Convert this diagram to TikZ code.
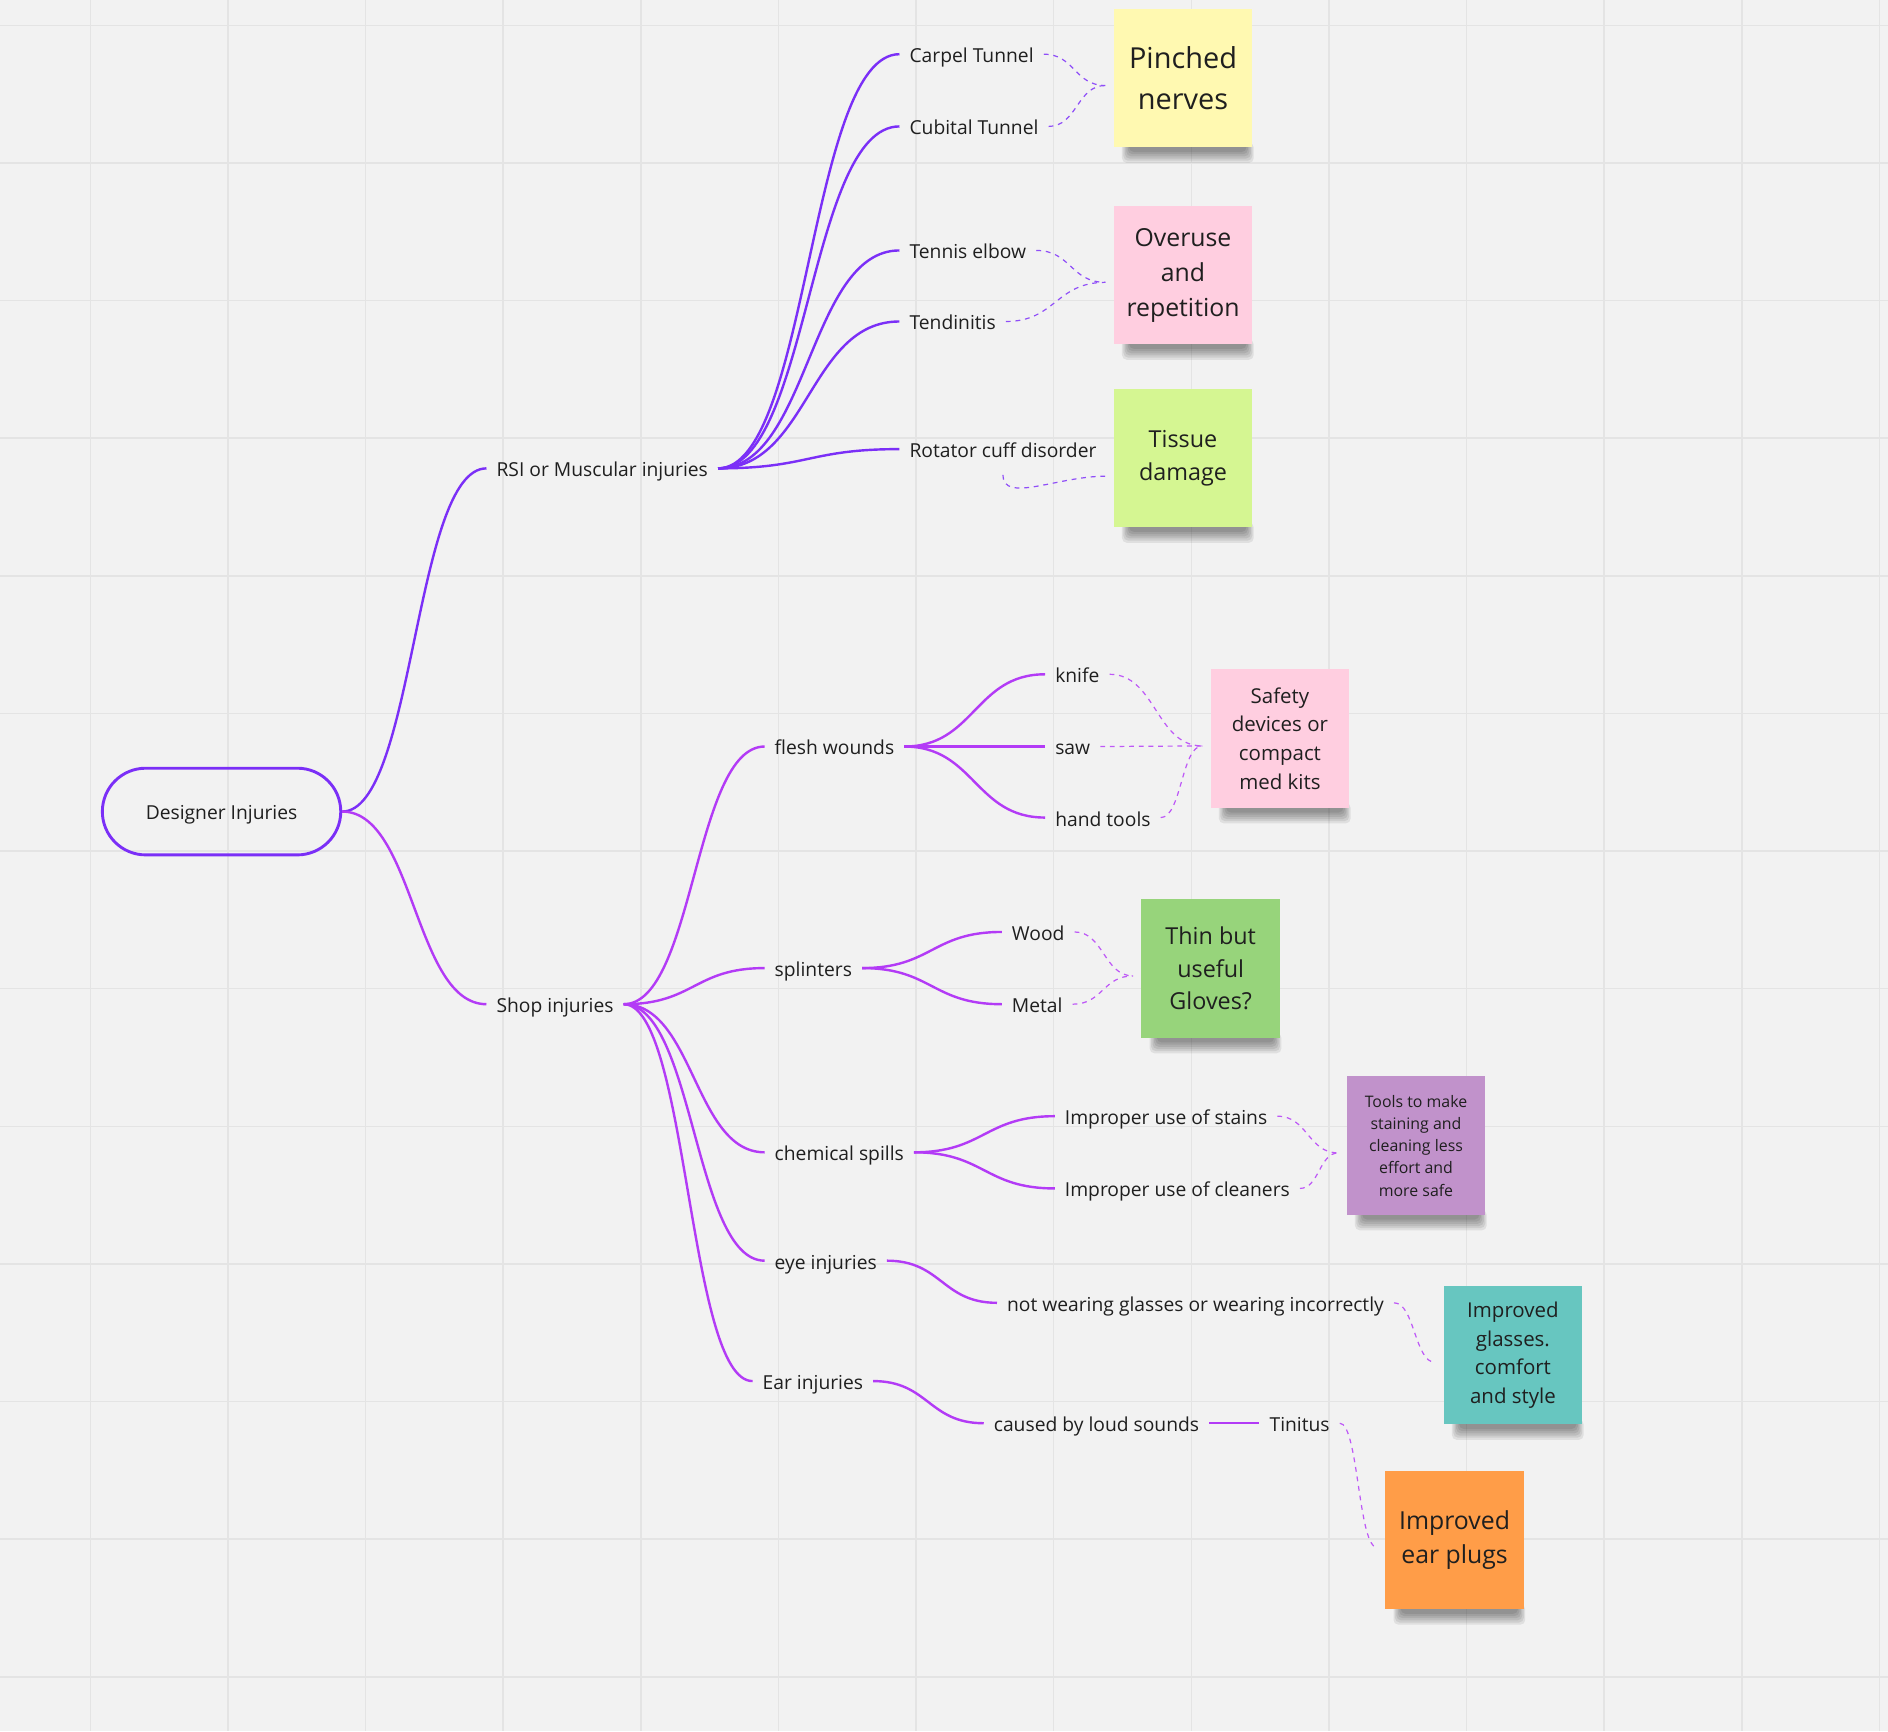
\documentclass[tikz,border=0pt]{standalone}
\usepackage{fontspec}
\setmainfont{Open Sans}
\usetikzlibrary{calc,backgrounds}

\definecolor{bgcol}{HTML}{F2F2F2}
\definecolor{gridcol}{HTML}{E4E4E4}
\definecolor{rsicol}{HTML}{7B2FF7}
\definecolor{shopcol}{HTML}{B33BF6}
\definecolor{txtcol}{HTML}{1F1F1F}
\definecolor{noteyellow}{HTML}{FFF9B1}
\definecolor{notepink}{HTML}{FFCEE0}
\definecolor{notelime}{HTML}{D5F692}
\definecolor{notegreen}{HTML}{97D47B}
\definecolor{noteviolet}{HTML}{C192CB}
\definecolor{noteteal}{HTML}{67C6C0}
\definecolor{noteorange}{HTML}{FF9D48}

\tikzset{
  lbl/.style={anchor=west, inner sep=4pt, text=txtcol, font=\fontsize{8}{10}\selectfont, text height=8pt, text depth=1pt},
  branch/.style={line width=1pt, to path={let \p1=(\tikztostart), \p2=(\tikztotarget) in .. controls ({0.5*\x1+0.5*\x2},\y1) and ({0.5*\x1+0.5*\x2},\y2) .. (\tikztotarget)}},
  link/.style={branch, line width=0.5pt, dash pattern=on 2pt off 2pt},
  note/.style={fill=#1, minimum width=57.5pt, minimum height=57.5pt, align=center, inner sep=1pt, outer sep=3.5pt, text=txtcol},
}

\begin{document}
\begin{tikzpicture}[x=0.5pt,y=-0.5pt]
  \useasboundingbox (0,0) rectangle (1568,1438);
  \begin{scope}[on background layer]
    \fill[bgcol] (0,0) rectangle (1568,1438);
    \foreach \i in {0,...,13}
      \draw[gridcol, line width=0.6pt] ({75+114.3*\i},0) -- ({75+114.3*\i},1438);
    \foreach \i in {0,...,12}
      \draw[gridcol, line width=0.6pt] (0,{21+114.3*\i}) -- (1568,{21+114.3*\i});
  \end{scope}

  \node[draw=rsicol, line width=1.2pt, rounded corners=18pt, minimum width=99pt, minimum height=36pt, text=txtcol, font=\fontsize{8}{10}\selectfont, text height=8pt, text depth=1pt] (root) at (184,674) {Designer Injuries};

  \node[lbl] (rsi) at (404,389) {RSI or Muscular injuries};
  \node[lbl] (shop) at (404,834) {Shop injuries};

  \node[lbl] (carpel) at (747,45) {Carpel Tunnel};
  \node[lbl] (cubital) at (747,105) {Cubital Tunnel};
  \node[lbl] (tennis) at (747,208) {Tennis elbow};
  \node[lbl] (tendinitis) at (747,267) {Tendinitis};
  \node[lbl] (rotator) at (747,373) {Rotator cuff disorder};

  \node[lbl] (flesh) at (635,620) {flesh wounds};
  \node[lbl] (splinters) at (635,804) {splinters};
  \node[lbl] (chemical) at (635,957) {chemical spills};
  \node[lbl] (eye) at (635,1047) {eye injuries};
  \node[lbl] (ear) at (625,1147) {Ear injuries};

  \node[lbl] (knife) at (868,560) {knife};
  \node[lbl] (saw) at (868,620) {saw};
  \node[lbl] (handtools) at (868,679) {hand tools};
  \node[lbl] (wood) at (832,774) {Wood};
  \node[lbl] (metal) at (832,834) {Metal};
  \node[lbl] (stains) at (876,927) {Improper use of stains};
  \node[lbl] (cleaners) at (876,987) {Improper use of cleaners};
  \node[lbl] (wearing) at (828,1082) {not wearing glasses or wearing incorrectly};
  \node[lbl] (loud) at (817,1182) {caused by loud sounds};
  \node[lbl] (tinitus) at (1046,1182) {Tinitus};

  \node[note=noteyellow, font=\fontsize{12}{17}\selectfont] (pinched) at (982.5,65) {Pinched\\nerves};
  \node[note=notepink, font=\fontsize{10.3}{14.5}\selectfont] (overuse) at (982.5,228.5) {Overuse\\and\\repetition};
  \node[note=notelime, font=\fontsize{9.7}{14}\selectfont] (tissue) at (982.5,380.5) {Tissue\\damage};
  \node[note=notepink, font=\fontsize{8.5}{12}\selectfont] (safety) at (1063,613.5) {Safety\\devices or\\compact\\med kits};
  \node[note=notegreen, font=\fontsize{9.7}{13.5}\selectfont] (gloves) at (1005.5,804.5) {Thin but\\useful\\Gloves?};
  \node[note=noteviolet, font=\fontsize{6.6}{9.25}\selectfont] (tools) at (1176,951.5) {Tools to make\\staining and\\cleaning less\\effort and\\more safe};
  \node[note=noteteal, font=\fontsize{8.5}{12}\selectfont] (glasses) at (1256.5,1125.5) {Improved\\glasses.\\comfort\\and style};
  \node[note=noteorange, font=\fontsize{10.3}{14.5}\selectfont] (plugs) at (1208,1279) {Improved\\ear plugs};

  \begin{scope}[on background layer]
    \foreach \s in {pinched,overuse,tissue,safety,gloves,tools,glasses,plugs}
      \foreach \k in {1,...,6}
        \fill[black, opacity=0.08, rounded corners=2pt] ([xshift={(10.5-0.6*\k)*1pt}, yshift=5.5pt]\s.south west) rectangle ([xshift={(-6.5+0.6*\k)*1pt}, yshift={(2.5-0.9*\k)*1pt}]\s.south east);
  \end{scope}

  \draw[rsicol, branch] (root.east) to (rsi.west);
  \draw[shopcol, branch] (root.east) to (shop.west);
  \foreach \s in {carpel,cubital,tennis,tendinitis,rotator}
    \draw[rsicol, branch] (rsi.east) to (\s.west);
  \foreach \s in {flesh,splinters,chemical,eye,ear}
    \draw[shopcol, branch] (shop.east) to (\s.west);
  \foreach \s in {knife,saw,handtools}
    \draw[shopcol, branch] (flesh.east) to (\s.west);
  \foreach \s in {wood,metal}
    \draw[shopcol, branch] (splinters.east) to (\s.west);
  \foreach \s in {stains,cleaners}
    \draw[shopcol, branch] (chemical.east) to (\s.west);
  \draw[shopcol, branch] (eye.east) to (wearing.west);
  \draw[shopcol, branch] (ear.east) to (loud.west);
  \draw[shopcol, branch] (loud.east) to (tinitus.west);

  \draw[rsicol!85, link] (carpel.east) to ([yshift=-3pt]pinched.west);
  \draw[rsicol!85, link] (cubital.east) to ([yshift=-3pt]pinched.west);
  \draw[rsicol!85, link] (tennis.east) to ([yshift=-3pt]overuse.west);
  \draw[rsicol!85, link] (tendinitis.east) to ([yshift=-3pt]overuse.west);
  \draw[rsicol!85, line width=0.5pt, dash pattern=on 2pt off 2pt] ([yshift=-2pt]rotator.south) .. controls +(0,24) and +(-40,0) .. ([yshift=-7.5pt]tissue.west);
  \foreach \s in {knife,saw,handtools}
    \draw[shopcol!85, link] (\s.east) to ([yshift=-3pt]safety.west);
  \foreach \s in {wood,metal}
    \draw[shopcol!85, link] (\s.east) to ([yshift=-3pt]gloves.west);
  \foreach \s in {stains,cleaners}
    \draw[shopcol!85, link] (\s.east) to ([yshift=-3pt]tools.west);
  \draw[shopcol!85, link] (wearing.east) to ([yshift=-3pt]glasses.west);
  \draw[shopcol!85, link] (tinitus.east) to ([yshift=-3pt]plugs.west);
\end{tikzpicture}
\end{document}
